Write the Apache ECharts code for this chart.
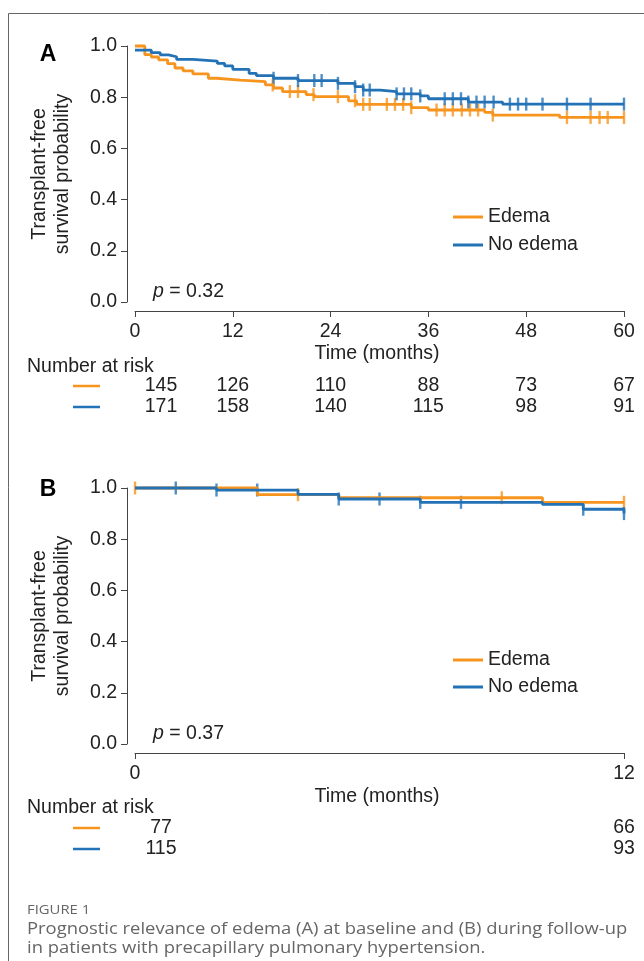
<!DOCTYPE html>
<html><head><meta charset="utf-8">
<script src="https://cdn.jsdelivr.net/npm/echarts@6/dist/echarts.min.js"></script>
<style>html,body{margin:0;padding:0;background:#fff}#c{width:644px;height:961px}</style>
</head><body><div id="c"></div>
<script>
// ---------- Panel A (baseline) ----------
const aEdemaTime = [0, 1.2, 2.0, 2.9, 4.0, 4.9, 5.9, 7.1, 9.0, 10.0, 12.9, 16.0, 17.0, 18.1, 21.0, 22.0, 26.2, 27.2, 33.9, 36.0, 42.9, 43.9, 52.1, 60];
const aEdemaSurv = [1.0, 0.966, 0.957, 0.946, 0.931, 0.914, 0.903, 0.891, 0.874, 0.867, 0.861, 0.848, 0.836, 0.822, 0.810, 0.802, 0.786, 0.772, 0.759, 0.750, 0.741, 0.730, 0.721, 0.721];
const aEdemaCensor = [16.9, 19.0, 20.0, 21.9, 24.9, 27.0, 28.0, 28.8, 30.9, 31.9, 32.9, 33.9, 37.0, 38.0, 39.0, 40.1, 41.1, 42.1, 43.9, 53.0, 55.9, 57.0, 58.0, 60.0];
const aNoEdemaTime = [0, 2.0, 3.1, 4.1, 5.1, 7.1, 10.1, 11.0, 12.0, 14.0, 14.9, 17.0, 20.0, 24.9, 27.0, 28.0, 30.1, 32.1, 35.0, 36.0, 40.9, 45.1, 60];
const aNoEdemaSurv = [0.984, 0.974, 0.965, 0.958, 0.948, 0.941, 0.932, 0.922, 0.909, 0.893, 0.884, 0.874, 0.865, 0.854, 0.841, 0.828, 0.822, 0.813, 0.805, 0.794, 0.781, 0.773, 0.773];
const aNoEdemaCensor = [17.0, 20.0, 22.0, 22.9, 24.9, 27.0, 28.0, 28.8, 32.1, 33.0, 33.9, 35.0, 38.0, 39.0, 40.0, 40.9, 41.9, 42.9, 44.0, 46.0, 47.0, 48.0, 50.0, 53.0, 55.9, 60.0];
const aRiskTimes = [0, 12, 24, 36, 48, 60];
const aRiskEdema = [145, 126, 110, 88, 73, 67];
const aRiskNoEdema = [171, 158, 140, 115, 98, 91];
const aPValue = '0.32';

// ---------- Panel B (follow-up) ----------
const bEdemaTime = [0, 3.0, 5.0, 10.0, 12];
const bEdemaSurv = [1.0, 0.974, 0.962, 0.944, 0.944];
const bEdemaCensor = [0, 4.0, 9.0, 12.0];
const bNoEdemaTime = [0, 2.0, 4.0, 5.0, 7.0, 10.0, 11.0, 12.0];
const bNoEdemaSurv = [1.0, 0.992, 0.975, 0.957, 0.944, 0.936, 0.917, 0.900];
const bNoEdemaCensor = [1.0, 2.0, 3.0, 5.0, 6.0, 7.0, 8.0, 11.0, 12.0];
const bRiskTimes = [0, 12];
const bRiskEdema = [77, 66];
const bRiskNoEdema = [115, 93];
const bPValue = '0.37';

const yTicks = [0, 0.2, 0.4, 0.6, 0.8, 1.0];
const groupNames = ['Edema', 'No edema'];
const captionTitle = 'FIGURE 1';
const captionLines = ['Prognostic relevance of edema (A) at baseline and (B) during follow-up', 'in patients with precapillary pulmonary hypertension.'];

const ORANGE = '#F7941D', BLUE = '#2272B5';
const FONT = '"Liberation Sans", Arial, sans-serif';
const FS = 19.5;
const AXC = '#444';

function pairs(t, s) { return t.map((v, i) => [v, s[i]]); }
function survAt(t, s, x) { let v = s[0]; for (let i = 0; i < t.length; i++) { if (t[i] <= x + 1e-9) v = s[i]; } return v; }
function censorPts(ct, t, s) { return ct.map(c => [c, survAt(t, s, c)]); }

const chart = echarts.init(document.getElementById('c'));

// per panel: data grid, x-axis grid (base-R style detached axis), y-axis grid
function panelGrids(top) {
  return [
    { left: 135, top: top, width: 489, height: 256 },
    { left: 135, top: top + 255, width: 489, height: 10 },
    { left: 127, top: top, width: 10, height: 256 }
  ];
}
const grids = panelGrids(46).concat(panelGrids(488));

function hiddenAxis(gi, min, max) { return { type: 'value', gridIndex: gi, min: min, max: max, show: false }; }
function shownX(gi, max, interval) {
  return {
    type: 'value', gridIndex: gi, min: 0, max: max, interval: interval, position: 'bottom',
    axisLine: { show: true, onZero: false, lineStyle: { color: AXC, width: 1 } },
    axisTick: { show: true, inside: false, length: 6, lineStyle: { color: AXC } },
    axisLabel: { fontSize: FS, fontFamily: FONT, color: '#222', margin: 11 },
    splitLine: { show: false }
  };
}
function shownY(gi) {
  return {
    type: 'value', gridIndex: gi, min: yTicks[0], max: yTicks[yTicks.length - 1], interval: 0.2, position: 'left',
    axisLine: { show: true, onZero: false, lineStyle: { color: AXC, width: 1 } },
    axisTick: { show: true, inside: false, length: 6, lineStyle: { color: AXC } },
    axisLabel: { fontSize: FS, fontFamily: FONT, color: '#222', margin: 10, formatter: v => v.toFixed(1) },
    splitLine: { show: false }
  };
}
const xAxes = [
  hiddenAxis(0, 0, 60), shownX(1, 60, 12), hiddenAxis(2, 0, 1),
  hiddenAxis(3, 0, 12), shownX(4, 12, 12), hiddenAxis(5, 0, 1)
];
const yAxes = [
  hiddenAxis(0, 0, 1), hiddenAxis(1, 0, 1), shownY(2),
  hiddenAxis(3, 0, 1), hiddenAxis(4, 0, 1), shownY(5)
];

function lineSeries(name, ai, t, s, color) {
  return {
    name: name, type: 'line', xAxisIndex: ai, yAxisIndex: ai, step: 'end', data: pairs(t, s),
    showSymbol: false, symbol: 'none', clip: false, animation: false,
    lineStyle: { color: color, width: 2.8 }, itemStyle: { color: color }
  };
}
function censorSeries(name, ai, pts, color) {
  return {
    name: name, type: 'scatter', xAxisIndex: ai, yAxisIndex: ai, data: pts,
    symbol: 'rect', symbolSize: [2.4, 13], clip: false, animation: false,
    itemStyle: { color: color }, silent: true
  };
}

const series = [
  lineSeries(groupNames[0], 0, aEdemaTime, aEdemaSurv, ORANGE),
  censorSeries('Edema censored A', 0, censorPts(aEdemaCensor, aEdemaTime, aEdemaSurv), ORANGE),
  lineSeries(groupNames[1], 0, aNoEdemaTime, aNoEdemaSurv, BLUE),
  censorSeries('No edema censored A', 0, censorPts(aNoEdemaCensor, aNoEdemaTime, aNoEdemaSurv), BLUE),
  lineSeries(groupNames[0], 3, bEdemaTime, bEdemaSurv, ORANGE),
  censorSeries('Edema censored B', 3, censorPts(bEdemaCensor, bEdemaTime, bEdemaSurv), ORANGE),
  lineSeries(groupNames[1], 3, bNoEdemaTime, bNoEdemaSurv, BLUE),
  censorSeries('No edema censored B', 3, censorPts(bNoEdemaCensor, bNoEdemaTime, bNoEdemaSurv), BLUE)
];

function legendDef(top, gap) {
  return {
    data: groupNames, left: 448, top: top, orient: 'vertical', icon: 'rect',
    itemWidth: 30, itemHeight: 3, itemGap: gap, selectedMode: false,
    textStyle: { fontSize: FS, fontFamily: FONT, color: '#222', lineHeight: 20 }
  };
}

chart.setOption({
  animation: false,
  backgroundColor: '#fff',
  grid: grids,
  xAxis: xAxes,
  yAxis: yAxes,
  legend: [legendDef(202, 8), legendDef(645, 7)],
  series: series
});

function txt(x, y, text, opt) {
  opt = opt || {};
  return {
    type: 'text', x: x, y: y, rotation: opt.rotation || 0, scaleX: opt.scaleX || 1, silent: true,
    style: {
      x: 0, y: 0, text: text,
      fontSize: opt.fontSize || FS, fontFamily: opt.fontFamily || FONT,
      fontWeight: opt.fontWeight || 'normal', fontStyle: opt.fontStyle || 'normal',
      fill: opt.fill || '#222',
      align: opt.align || 'left', verticalAlign: 'middle',
      textAlign: opt.align || 'left', textVerticalAlign: 'middle'
    }
  };
}
function hline(x1, x2, y, color, w) {
  return { type: 'line', silent: true, shape: { x1: x1, y1: y, x2: x2, y2: y }, style: { stroke: color, lineWidth: w } };
}

const g = [];
// frame
g.push({ type: 'line', silent: true, shape: { x1: 8.5, y1: 13.5, x2: 644, y2: 13.5 }, style: { stroke: '#666', lineWidth: 1 } });
g.push({ type: 'line', silent: true, shape: { x1: 8.5, y1: 13.5, x2: 8.5, y2: 961 }, style: { stroke: '#666', lineWidth: 1 } });

function panelText(ai, letter, letterY, midY, xTitleY, narY, row1Y, row2Y, pY, riskTimes, riskE, riskN, pval) {
  g.push(txt(48, letterY, letter, { fontSize: 23, fontWeight: 'bold', align: 'center', fill: '#000' }));
  g.push(txt(40, midY, 'Transplant-free', { rotation: Math.PI / 2, align: 'center' }));
  g.push(txt(63, midY, 'survival probability', { rotation: Math.PI / 2, align: 'center' }));
  g.push(txt(377, xTitleY, 'Time (months)', { align: 'center' }));
  g.push(txt(27, narY, 'Number at risk'));
  g.push(hline(73, 100, row1Y, ORANGE, 2.5));
  g.push(hline(73, 100, row2Y, BLUE, 2.5));
  riskTimes.forEach((t, i) => {
    let x = chart.convertToPixel({ xAxisIndex: ai }, t);
    if (i === 0) x += 26;
    g.push(txt(x, row1Y, String(riskE[i]), { align: 'center' }));
    g.push(txt(x, row2Y, String(riskN[i]), { align: 'center' }));
  });
  g.push({
    type: 'text', x: 153, y: pY, silent: true,
    style: {
      x: 0, y: 0, text: '{i|p} = ' + pval,
      fontSize: FS, fontFamily: FONT, fill: '#222', verticalAlign: 'middle', textVerticalAlign: 'middle',
      rich: { i: { fontStyle: 'italic', fontSize: FS, fontFamily: FONT, fill: '#222' } }
    }
  });
}
panelText(0, 'A', 55, 174, 354, 367, 386, 407, 292, aRiskTimes, aRiskEdema, aRiskNoEdema, aPValue);
panelText(3, 'B', 490, 616, 797, 808, 828, 849, 734, bRiskTimes, bRiskEdema, bRiskNoEdema, bPValue);

// caption
const CAP = '"Open Sans", sans-serif';
g.push(txt(27, 910, captionTitle, { fontSize: 13.5, fontFamily: CAP, fill: '#666', scaleX: 1.1 }));
g.push(txt(27, 929, captionLines[0], { fontSize: 16, fontFamily: CAP, fill: '#666', scaleX: 1.15 }));
g.push(txt(27, 948, captionLines[1], { fontSize: 16, fontFamily: CAP, fill: '#666', scaleX: 1.15 }));

chart.setOption({ graphic: g });
</script>
</body></html>
